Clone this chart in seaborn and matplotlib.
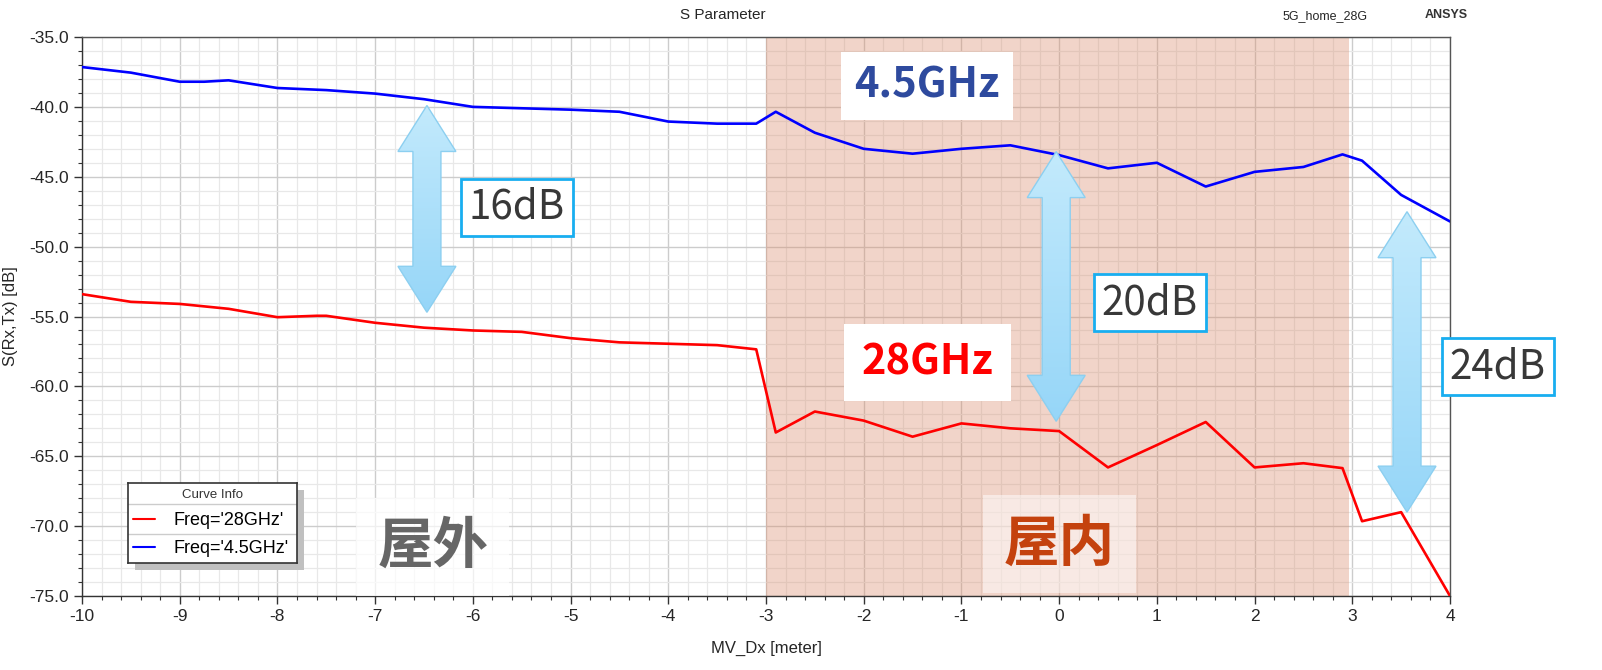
import numpy as np
import pandas as pd
import matplotlib
matplotlib.use("Agg")
import matplotlib.pyplot as plt
import seaborn as sns
from matplotlib.patches import Polygon, Rectangle
from matplotlib.ticker import MultipleLocator, FormatStrFormatter
from matplotlib.colors import LinearSegmentedColormap

# ---------------- data ----------------
x_28 = [-10, -9.5, -9, -8.5, -8, -7.6, -7.5, -7, -6.5, -6, -5.5, -5, -4.5, -4, -3.5, -3.1,
        -2.9, -2.5, -2, -1.5, -1, -0.5, 0, 0.5, 1, 1.5, 2, 2.5, 2.9, 3.1, 3.5, 4]
s_28 = [-53.4, -53.95, -54.1, -54.45, -55.05, -54.95, -54.95, -55.45, -55.8, -56.0, -56.1,
        -56.55, -56.85, -56.95, -57.05, -57.35, -63.3, -61.8, -62.45, -63.6, -62.65, -63.0,
        -63.2, -65.8, -64.2, -62.55, -65.8, -65.5, -65.85, -69.65, -69.0, -75.0]

x_45 = [-10, -9.5, -9, -8.75, -8.5, -8, -7.5, -7, -6.5, -6, -5.5, -5, -4.5, -4, -3.5, -3.1,
        -2.9, -2.5, -2, -1.5, -1, -0.5, 0, 0.5, 1, 1.5, 2, 2.5, 2.9, 3.1, 3.5, 4]
s_45 = [-37.15, -37.55, -38.2, -38.2, -38.1, -38.65, -38.8, -39.05, -39.45, -40.0, -40.1,
        -40.2, -40.35, -41.05, -41.2, -41.2, -40.35, -41.85, -43.0, -43.35, -43.0, -42.75,
        -43.45, -44.4, -44.0, -45.7, -44.65, -44.3, -43.4, -43.85, -46.3, -48.2]

series_labels = ["Freq='28GHz'", "Freq='4.5GHz'"]
series_colors = ["#FF0000", "#0000FF"]
x_ticks = list(range(-10, 5))
y_ticks = [-35, -40, -45, -50, -55, -60, -65, -70, -75]
indoor_span = (-3, 2.97)

# gap arrows: x, top, bottom
gap_arrows = [(-6.47, -39.9, -54.7), (-0.03, -43.2, -62.5), (3.56, -47.5, -69.0)]
gap_texts = ["16dB", "20dB", "24dB"]
gap_text_pos = [(-5.55, -47.2), (0.93, -54.0), (4.49, -58.6)]

# ---------------- figure ----------------
sns.set_style("white")
plt.rcParams['font.family'] = ['Liberation Sans', 'DejaVu Sans']
plt.rcParams['axes.unicode_minus'] = False
CJK = ['Noto Sans CJK SC', 'DejaVu Sans']

W, H = 1602, 670
fig = plt.figure(figsize=(W / 100, H / 100), dpi=100)
ax = fig.add_axes([82 / W, 74 / H, 1368 / W, 559 / H])

df = pd.concat([
    pd.DataFrame({"x": x_28, "s": s_28, "curve": series_labels[0]}),
    pd.DataFrame({"x": x_45, "s": s_45, "curve": series_labels[1]}),
])
sns.lineplot(data=df, x="x", y="s", hue="curve", palette=dict(zip(series_labels, series_colors)),
             linewidth=1.9, legend=False, ax=ax, zorder=3, estimator=None, sort=False)

ax.set_xlim(-10, 4)
ax.set_ylim(-75, -35)
ax.set_xticks(x_ticks)
ax.set_yticks(y_ticks)
ax.yaxis.set_major_formatter(FormatStrFormatter('%.1f'))
ax.xaxis.set_minor_locator(MultipleLocator(0.2))
ax.yaxis.set_minor_locator(MultipleLocator(1))
ax.set_axisbelow(True)
ax.grid(which='major', color='#CCCCCC', lw=1.0)
ax.grid(which='minor', color='#E8E8E8', lw=0.9)
ax.tick_params(which='major', direction='out', length=6, width=1, color='#333333',
               labelsize=12.5, left=True, bottom=True)
ax.tick_params(which='minor', direction='out', length=3, width=0.8, color='#333333',
               left=True, bottom=True)
for side, sp in ax.spines.items():
    sp.set_color('#333333' if side in ('left', 'bottom') else '#555555')
    sp.set_linewidth(1.0)

ax.set_xlabel("MV_Dx [meter]", fontsize=12, labelpad=12)
ax.set_ylabel("S(Rx,Tx) [dB]", fontsize=12, labelpad=8)

# indoor region
ax.axvspan(indoor_span[0], indoor_span[1], color='#DA8A6A', alpha=0.36, lw=0, zorder=1)

# double arrows with gradient
cmap = LinearSegmentedColormap.from_list("arr", ['#C3EAFC', '#96D6F8'])


def double_arrow(x, y_top, y_bot, sh=14, hh=29, hl=46):
    x0, yt = ax.transData.transform((x, y_top))
    _, yb = ax.transData.transform((x, y_bot))
    pts = [(x0, yt), (x0 + hh, yt - hl), (x0 + sh, yt - hl), (x0 + sh, yb + hl),
           (x0 + hh, yb + hl), (x0, yb), (x0 - hh, yb + hl), (x0 - sh, yb + hl),
           (x0 - sh, yt - hl), (x0 - hh, yt - hl)]
    dpts = ax.transData.inverted().transform(pts)
    poly = Polygon(dpts, closed=True, fc='none', ec='#8CCFF0', lw=1.0, zorder=4.6)
    ax.add_patch(poly)
    grad = np.linspace(0, 1, 256).reshape(-1, 1)
    im = ax.imshow(grad, extent=[dpts[:, 0].min(), dpts[:, 0].max(), y_bot, y_top],
                   origin='upper', aspect='auto', cmap=cmap, zorder=4.5)
    im.set_clip_path(poly)


for (xa, yt, yb) in gap_arrows:
    double_arrow(xa, yt, yb)

for t, (tx, ty) in zip(gap_texts, gap_text_pos):
    ax.text(tx, ty, t, fontsize=29, family=CJK, color='#383838', ha='center', va='center',
            bbox=dict(boxstyle='square,pad=0.2', fc='white', ec='#18AEF0', lw=2),
            zorder=6, clip_on=False)

# frequency labels
ax.text(-1.35, -38.5, "4.5GHz", fontsize=30, family=CJK, weight='bold', color='#2E4A9E',
        ha='center', va='center', zorder=6,
        bbox=dict(boxstyle='square,pad=0.32', fc='white', ec='none'))
ax.text(-1.35, -58.3, "28GHz", fontsize=30, family=CJK, weight='bold', color='#FF0000',
        ha='center', va='center', zorder=6,
        bbox=dict(boxstyle='square,pad=0.42', fc='white', ec='none'))

# region labels
ax.text(-6.41, -71.5, "屋外", fontsize=40, family=CJK, weight='bold', color='#666666',
        ha='center', va='center', zorder=6,
        bbox=dict(boxstyle='square,pad=0.38', fc='white', ec='none', alpha=0.7))
ax.text(0.0, -71.3, "屋内", fontsize=40, family=CJK, weight='bold', color='#C4420E',
        ha='center', va='center', zorder=6,
        bbox=dict(boxstyle='square,pad=0.38', fc='white', ec='none', alpha=0.5))

ax.set_xlim(-10, 4)
ax.set_ylim(-75, -35)

# header texts
fig.text(723 / W, 1 - 15 / H, "S Parameter", ha='center', va='center', fontsize=11)
fig.text(1325 / W, 1 - 16 / H, "5G_home_28G", ha='center', va='center', fontsize=9,
         family=['Liberation Sans Narrow', 'Liberation Sans'])
fig.text(1446 / W, 1 - 15 / H, "ANSYS", ha='center', va='center', fontsize=9,
         family=['Liberation Sans Narrow', 'Liberation Sans'], weight='bold', color='#333333')

# custom legend box ("Curve Info")
lx, ly, lw_, lh = 128, 563, 169, 80
shadow = Rectangle(((lx + 7) / W, (H - ly - 7) / H), lw_ / W, lh / H, transform=fig.transFigure,
                   fc='#C0C0C0', ec='none', zorder=8)
fig.patches.append(shadow)
lg = fig.add_axes([lx / W, (H - ly) / H, lw_ / W, lh / H], zorder=9)
lg.set_xlim(0, 1)
lg.set_ylim(0, 1)
lg.set_xticks([])
lg.set_yticks([])
lg.set_facecolor('white')
for sp in lg.spines.values():
    sp.set_color('#333333')
    sp.set_linewidth(1.2)
lg.text(0.5, 0.855, "Curve Info", ha='center', va='center', fontsize=9.5, color='#333333')
lg.axhline(0.735, color='#CCCCCC', lw=1)
lg.axhline(0.36, color='#CCCCCC', lw=1)
for yy, lab, col in zip([0.535, 0.185], series_labels, series_colors):
    lg.plot([0.03, 0.16], [yy + 0.02, yy + 0.02], color=col, lw=1.5)
    lg.text(0.27, yy, lab, ha='left', va='center', fontsize=13, color='black')

fig.savefig("out.png", dpi=100)
